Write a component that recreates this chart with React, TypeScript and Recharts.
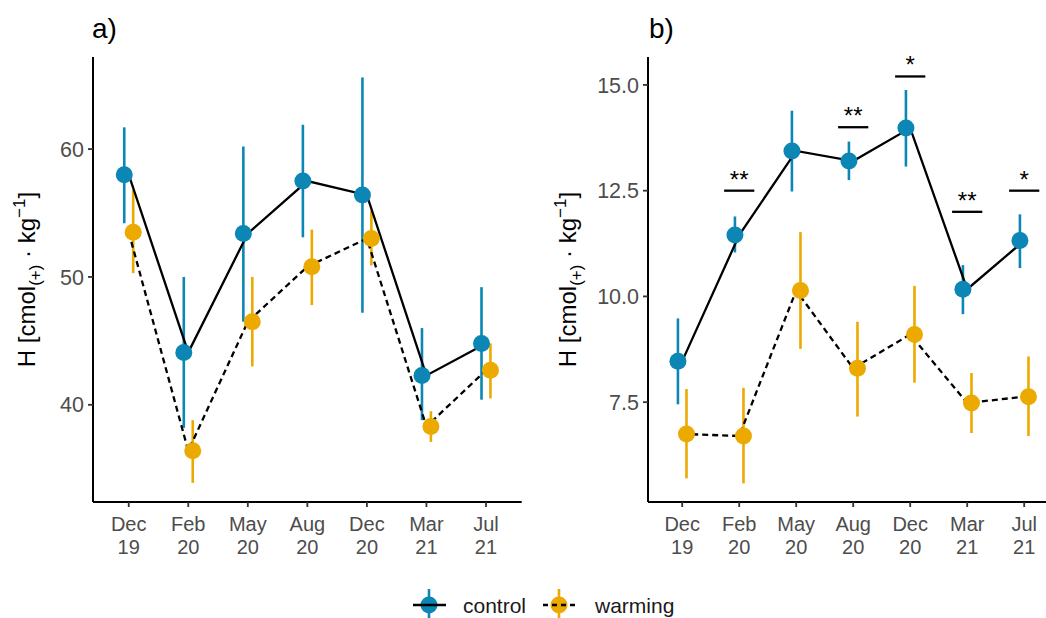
import {
  ComposedChart,
  Line,
  Scatter,
  ErrorBar,
  XAxis,
  YAxis,
  ReferenceLine,
} from "recharts";

const months = ["Dec", "Feb", "May", "Aug", "Dec", "Mar", "Jul"];
const years = ["19", "20", "20", "20", "20", "21", "21"];

// panel a
const ctrlA = [58.0, 44.1, 53.4, 57.5, 56.4, 42.3, 44.8];
const ctrlALow = [54.2, 38.2, 46.5, 53.1, 47.2, 38.8, 40.4];
const ctrlAHigh = [61.7, 50.0, 60.2, 61.9, 65.6, 46.0, 49.2];
const warmA = [53.5, 36.4, 46.5, 50.8, 53.0, 38.3, 42.7];
const warmALow = [50.3, 33.9, 43.0, 47.8, 50.9, 37.1, 40.5];
const warmAHigh = [56.8, 38.8, 50.0, 53.7, 55.2, 39.5, 44.8];
const ticksA = [40, 50, 60];

// panel b
const ctrlB = [8.47, 11.45, 13.44, 13.2, 13.98, 10.17, 11.32];
const ctrlBLow = [7.45, 11.04, 12.48, 12.75, 13.07, 9.58, 10.67];
const ctrlBHigh = [9.48, 11.89, 14.39, 13.66, 14.88, 10.74, 11.94];
const warmB = [6.75, 6.7, 10.14, 8.3, 9.1, 7.48, 7.63];
const warmBLow = [5.7, 5.58, 8.76, 7.16, 7.96, 6.77, 6.7];
const warmBHigh = [7.81, 7.84, 11.52, 9.4, 10.25, 8.19, 8.58];
const ticksB = [7.5, 10, 12.5, 15];

// significance marks (panel b)
const sigIdx = [1, 3, 4, 5, 6];
const sigY = [12.5, 14.0, 15.2, 12.0, 12.5];
const sigText = ["**", "**", "*", "**", "*"];

const BLUE = "#0b86b5";
const ORANGE = "#eca900";
const FONT = "'Liberation Sans', Arial, sans-serif";
const TICK_SIZE = 21.5;
const DODGE = 0.075;
const SIG_HALF = 0.265;

const lineRows = (c: number[], w: number[]) =>
  c.map((v, i) => ({ x: i, control: v, warming: w[i] }));

const pointRows = (v: number[], lo: number[], hi: number[], shift: number) =>
  v.map((val, i) => ({ x: i + shift, value: val, err: [val - lo[i], hi[i] - val] }));

// two-line month / year label under each tick
const XTick = (props: any) => {
  const { x, y, payload } = props;
  const i = payload.value;
  return (
    <g fill="#4d4d4d" fontSize={20} fontFamily={FONT} textAnchor="middle">
      <text x={x} y={y + 22}>{months[i]}</text>
      <text x={x} y={y + 44.5}>{years[i]}</text>
    </g>
  );
};

const YLabel = ({ cx, cy }: { cx: number; cy: number }) => (
  <text
    transform={`translate(${cx + 8.5},${cy}) rotate(-90)`}
    textAnchor="middle"
    fontSize={24}
    fontFamily={FONT}
    fill="#000"
  >
    H [cmol
    <tspan fontSize={17} dy={6}>(+)</tspan>
    <tspan dy={-6}>{" \u00b7  kg"}</tspan>
    <tspan fontSize={17} dy={-10}>{"\u22121"}</tspan>
    <tspan dy={10}>]</tspan>
  </text>
);

const dot = (color: string) => (p: any) =>
  <circle cx={p.cx} cy={p.cy} r={8.5} fill={color} />;

type PanelProps = {
  ctrl: number[];
  ctrlLo: number[];
  ctrlHi: number[];
  warm: number[];
  warmLo: number[];
  warmHi: number[];
  domain: [number, number];
  ticks: number[];
  axisW: number;
  marginRight: number;
  labelX: number;
  fmt: (v: number) => string;
  showSig?: boolean;
};

function Panel(p: PanelProps) {
  const top = 57;
  const height = 560;
  const xH = 58;
  return (
    <ComposedChart
      width={540}
      height={height}
      data={lineRows(p.ctrl, p.warm)}
      margin={{ top, right: p.marginRight, bottom: 0, left: 0 }}
    >
      <XAxis
        type="number"
        dataKey="x"
        domain={[-0.6, 6.6]}
        ticks={[0, 1, 2, 3, 4, 5, 6]}
        allowDataOverflow
        height={xH}
        tick={<XTick />}
        tickSize={5}
        tickMargin={2}
        axisLine={{ stroke: "#000", strokeWidth: 2 }}
        tickLine={{ stroke: "#333", strokeWidth: 1.8 }}
      />
      <YAxis
        type="number"
        domain={p.domain}
        ticks={p.ticks}
        allowDataOverflow
        width={p.axisW}
        tickFormatter={p.fmt}
        tickSize={5}
        tickMargin={4}
        tick={{ fill: "#4d4d4d", fontSize: TICK_SIZE, fontFamily: FONT }}
        axisLine={{ stroke: "#000", strokeWidth: 2 }}
        tickLine={{ stroke: "#333", strokeWidth: 1.8 }}
        label={() => <YLabel cx={p.labelX} cy={top + (height - top - xH) / 2} />}
      />
      <Scatter
        data={pointRows(p.ctrl, p.ctrlLo, p.ctrlHi, -DODGE)}
        dataKey="value"
        shape={dot(BLUE)}
        isAnimationActive={false}
      >
        <ErrorBar dataKey="err" direction="y" width={0} stroke={BLUE} strokeWidth={2.6} />
      </Scatter>
      <Scatter
        data={pointRows(p.warm, p.warmLo, p.warmHi, DODGE)}
        dataKey="value"
        shape={dot(ORANGE)}
        isAnimationActive={false}
      >
        <ErrorBar dataKey="err" direction="y" width={0} stroke={ORANGE} strokeWidth={2.6} />
      </Scatter>
      <Line
        dataKey="control"
        type="linear"
        stroke="#000"
        strokeWidth={2.3}
        dot={false}
        activeDot={false}
        isAnimationActive={false}
      />
      <Line
        dataKey="warming"
        type="linear"
        stroke="#000"
        strokeWidth={2.3}
        strokeDasharray="6 4"
        dot={false}
        activeDot={false}
        isAnimationActive={false}
      />
      {p.showSig &&
        sigIdx.map((idx, k) => (
          <ReferenceLine
            key={k}
            segment={[
              { x: idx - SIG_HALF, y: sigY[k] },
              { x: idx + SIG_HALF, y: sigY[k] },
            ]}
            stroke="#000"
            strokeWidth={2.3}
            label={{
              value: sigText[k],
              position: "top",
              offset: 3,
              fontSize: 24,
              fill: "#000",
              fontFamily: FONT,
            }}
          />
        ))}
    </ComposedChart>
  );
}

export default function App() {
  return (
    <div
      style={{
        position: "fixed",
        left: 0,
        top: 0,
        width: 1046,
        height: 618,
        overflow: "hidden",
        background: "#fff",
        fontFamily: FONT,
      }}
    >
      <div style={{ position: "absolute", left: 0, top: 0 }}>
        <Panel
          ctrl={ctrlA}
          ctrlLo={ctrlALow}
          ctrlHi={ctrlAHigh}
          warm={warmA}
          warmLo={warmALow}
          warmHi={warmAHigh}
          domain={[32.4, 67.2]}
          ticks={ticksA}
          axisW={93}
          marginRight={18.3}
          labelX={26}
          fmt={(v) => String(v)}
        />
      </div>
      <div style={{ position: "absolute", left: 540, top: 0 }}>
        <Panel
          ctrl={ctrlB}
          ctrlLo={ctrlBLow}
          ctrlHi={ctrlBHigh}
          warm={warmB}
          warmLo={warmBLow}
          warmHi={warmBHigh}
          domain={[5.14, 15.66]}
          ticks={ticksB}
          axisW={108}
          marginRight={21.6}
          labelX={27}
          fmt={(v) => v.toFixed(1)}
          showSig
        />
      </div>
      <svg
        width={1046}
        height={618}
        style={{ position: "absolute", left: 0, top: 0, pointerEvents: "none" }}
      >
        <text x={92} y={38} fontSize={28} fontFamily={FONT} fill="#000">a)</text>
        <text x={649} y={38} fontSize={28} fontFamily={FONT} fill="#000">b)</text>
        <g transform="translate(413,605)">
          <line x1={16} x2={16} y1={-16} y2={16} stroke={BLUE} strokeWidth={2.6} />
          <circle cx={16} cy={0} r={8.5} fill={BLUE} />
          <line x1={0} x2={33} y1={0} y2={0} stroke="#000" strokeWidth={2.3} />
          <text x={50} y={7.5} fontSize={21} fontFamily={FONT} fill="#1a1a1a">control</text>
        </g>
        <g transform="translate(543,605)">
          <line x1={16} x2={16} y1={-16} y2={16} stroke={ORANGE} strokeWidth={2.6} />
          <circle cx={16} cy={0} r={8.5} fill={ORANGE} />
          <line x1={0} x2={33} y1={0} y2={0} stroke="#000" strokeWidth={2.3} strokeDasharray="5 4" />
          <text x={52} y={7.5} fontSize={21} fontFamily={FONT} fill="#1a1a1a">warming</text>
        </g>
      </svg>
    </div>
  );
}
